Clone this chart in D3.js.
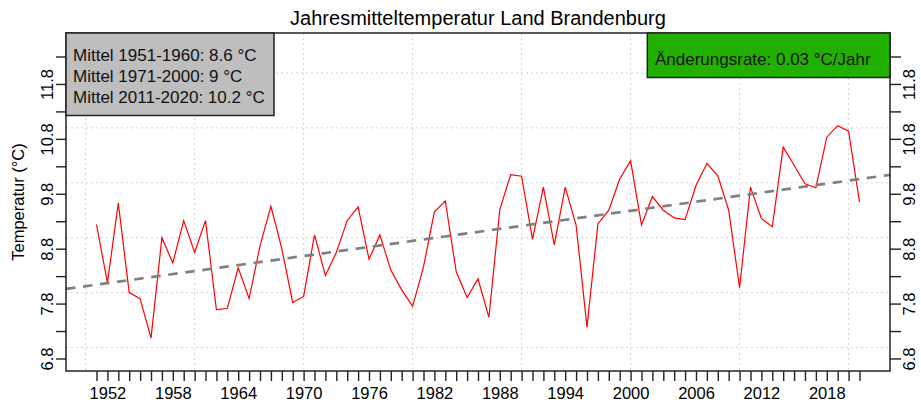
<!DOCTYPE html>
<html>
<head>
<meta charset="utf-8">
<script src="https://cdnjs.cloudflare.com/ajax/libs/d3/7.8.5/d3.min.js"></script>
<style>
body { margin: 0; background: #fff; }
svg { font-family: "Liberation Sans", Arial, sans-serif; }
</style>
</head>
<body>
<svg width="921" height="403"></svg>
<script>
// Jahresmittel Land Brandenburg
var years = [1951,1952,1953,1954,1955,1956,1957,1958,1959,1960,
             1961,1962,1963,1964,1965,1966,1967,1968,1969,1970,
             1971,1972,1973,1974,1975,1976,1977,1978,1979,1980,
             1981,1982,1983,1984,1985,1986,1987,1988,1989,1990,
             1991,1992,1993,1994,1995,1996,1997,1998,1999,2000,
             2001,2002,2003,2004,2005,2006,2007,2008,2009,2010,
             2011,2012,2013,2014,2015,2016,2017,2018,2019,2020,2021];
var temps = [9.24,8.18,9.63,8.00,7.89,7.17,9.00,8.54,9.31,8.73,
             9.31,7.69,7.71,8.45,7.89,8.85,9.57,8.80,7.82,7.93,
             9.05,8.31,8.73,9.31,9.56,8.61,9.05,8.41,8.05,7.75,
             8.47,9.47,9.67,8.38,7.91,8.25,7.55,9.51,10.15,10.12,
             8.97,9.92,8.87,9.92,9.23,7.37,9.25,9.50,10.07,10.40,
             9.23,9.75,9.50,9.36,9.33,9.95,10.35,10.13,9.50,8.09,
             9.92,9.35,9.20,10.65,10.32,9.98,9.91,10.83,11.04,10.94,9.65];

var xLabelYears = [1952,1958,1964,1970,1976,1982,1988,1994,2000,2006,2012,2018];
var yTickValues = [6.8,7.3,7.8,8.3,8.8,9.3,9.8,10.3,10.8,11.3,11.8,12.3];
var yLabelValues = [6.8,7.8,8.8,9.8,10.8,11.8];
var xGrid = [1950,1960,1970,1980,1990,2000,2010,2020];
var yGrid = [7,8,9,10,11,12];
var meanLines = ["Mittel 1951-1960: 8.6 °C", "Mittel 1971-2000: 9 °C", "Mittel 2011-2020: 10.2 °C"];
var rateText = "Änderungsrate: 0.03 °C/Jahr";

var svg = d3.select("svg");
var pLeft = 66, pRight = 890, pTop = 33, pBottom = 371;

var x = d3.scaleLinear().domain([1948.2, 2023.8]).range([pLeft, pRight]);
var y = d3.scaleLinear().domain([6.572, 12.728]).range([pBottom, pTop]);

svg.append("clipPath").attr("id", "plotclip")
  .append("rect").attr("x", pLeft).attr("y", pTop)
  .attr("width", pRight - pLeft).attr("height", pBottom - pTop);

// grid
svg.selectAll("line.vgrid").data(xGrid).enter().append("line")
  .attr("class", "vgrid")
  .attr("x1", function(d) { return x(d); }).attr("x2", function(d) { return x(d); })
  .attr("y1", pTop).attr("y2", pBottom)
  .attr("stroke", "#d3d3d3").attr("stroke-dasharray", "2,3");
svg.selectAll("line.hgrid").data(yGrid).enter().append("line")
  .attr("class", "hgrid")
  .attr("x1", pLeft).attr("x2", pRight)
  .attr("y1", function(d) { return y(d); }).attr("y2", function(d) { return y(d); })
  .attr("stroke", "#d3d3d3").attr("stroke-dasharray", "2,3");

// linear trend (least squares)
var mx = d3.mean(years), my = d3.mean(temps);
var sxy = d3.sum(years, function(d, i) { return (d - mx) * (temps[i] - my); });
var sxx = d3.sum(years, function(d) { return (d - mx) * (d - mx); });
var slope = sxy / sxx;
var icpt = my - slope * mx;
var xd = x.domain();

// data line
var line = d3.line()
  .x(function(d, i) { return x(years[i]); })
  .y(function(d) { return y(d); });
svg.append("path").datum(temps)
  .attr("d", line)
  .attr("fill", "none")
  .attr("stroke", "#ff0000")
  .attr("stroke-width", 1.2);

svg.append("line")
  .attr("clip-path", "url(#plotclip)")
  .attr("x1", x(xd[0])).attr("y1", y(icpt + slope * xd[0]))
  .attr("x2", x(xd[1])).attr("y2", y(icpt + slope * xd[1]))
  .attr("stroke", "#808080").attr("stroke-width", 2.7)
  .attr("stroke-dasharray", "9.5,7.7");

// axes
var xAxis = d3.axisBottom(x).tickValues(years)
  .tickSize(10)
  .tickFormat(function(d) { return xLabelYears.indexOf(d) >= 0 ? d : ""; });
var gx = svg.append("g").attr("transform", "translate(0," + pBottom + ")").call(xAxis);
gx.select(".domain").remove();
gx.selectAll("text").attr("y", 28).attr("dy", null)
  .style("font-size", "16.5px").attr("fill", "#000");

function styleY(g, dx) {
  g.select(".domain").remove();
  g.selectAll("text")
    .attr("x", null).attr("dy", null)
    .attr("text-anchor", "middle")
    .attr("transform", "translate(" + dx + ",0) rotate(-90)")
    .style("font-size", "16.5px").attr("fill", "#000");
}
var yfmt = function(d) {
  return yLabelValues.some(function(v) { return Math.abs(v - d) < 1e-6; }) ? d3.format(".1f")(d) : "";
};
var gyl = svg.append("g").attr("transform", "translate(" + pLeft + ",0)")
  .call(d3.axisLeft(y).tickValues(yTickValues).tickSize(10).tickFormat(yfmt));
styleY(gyl, -12.7);
var gyr = svg.append("g").attr("transform", "translate(" + pRight + ",0)")
  .call(d3.axisRight(y).tickValues(yTickValues).tickSize(11).tickFormat(yfmt));
styleY(gyr, 25);

svg.selectAll(".tick line").attr("stroke", "#222").attr("stroke-width", 1.4);

// box
svg.append("rect")
  .attr("x", pLeft).attr("y", pTop)
  .attr("width", pRight - pLeft).attr("height", pBottom - pTop)
  .attr("fill", "none").attr("stroke", "#222").attr("stroke-width", 1.5);

// titles
svg.append("text").text("Jahresmitteltemperatur Land Brandenburg")
  .attr("x", (pLeft + pRight) / 2).attr("y", 25)
  .attr("text-anchor", "middle").style("font-size", "20px");
svg.append("text").text("Temperatur (°C)")
  .attr("transform", "translate(24," + ((pTop + pBottom) / 2) + ") rotate(-90)")
  .attr("text-anchor", "middle").style("font-size", "16.5px");

// mean box
svg.append("rect").attr("x", pLeft).attr("y", pTop)
  .attr("width", 208).attr("height", 82.5)
  .attr("fill", "#bebebe").attr("stroke", "#222").attr("stroke-width", 1.5);
svg.selectAll("text.mean").data(meanLines).enter().append("text")
  .attr("class", "mean")
  .attr("x", 73).attr("y", function(d, i) { return 61 + i * 21; })
  .style("font-size", "17px").attr("fill", "#111")
  .text(function(d) { return d; });

// rate box
svg.append("rect").attr("x", 647.3).attr("y", pTop)
  .attr("width", pRight - 647.3).attr("height", 44.5)
  .attr("fill", "#22b000").attr("stroke", "#222").attr("stroke-width", 1.5);
svg.append("text").text(rateText)
  .attr("x", 655).attr("y", 65)
  .style("font-size", "17px").attr("fill", "#111");
</script>
</body>
</html>
